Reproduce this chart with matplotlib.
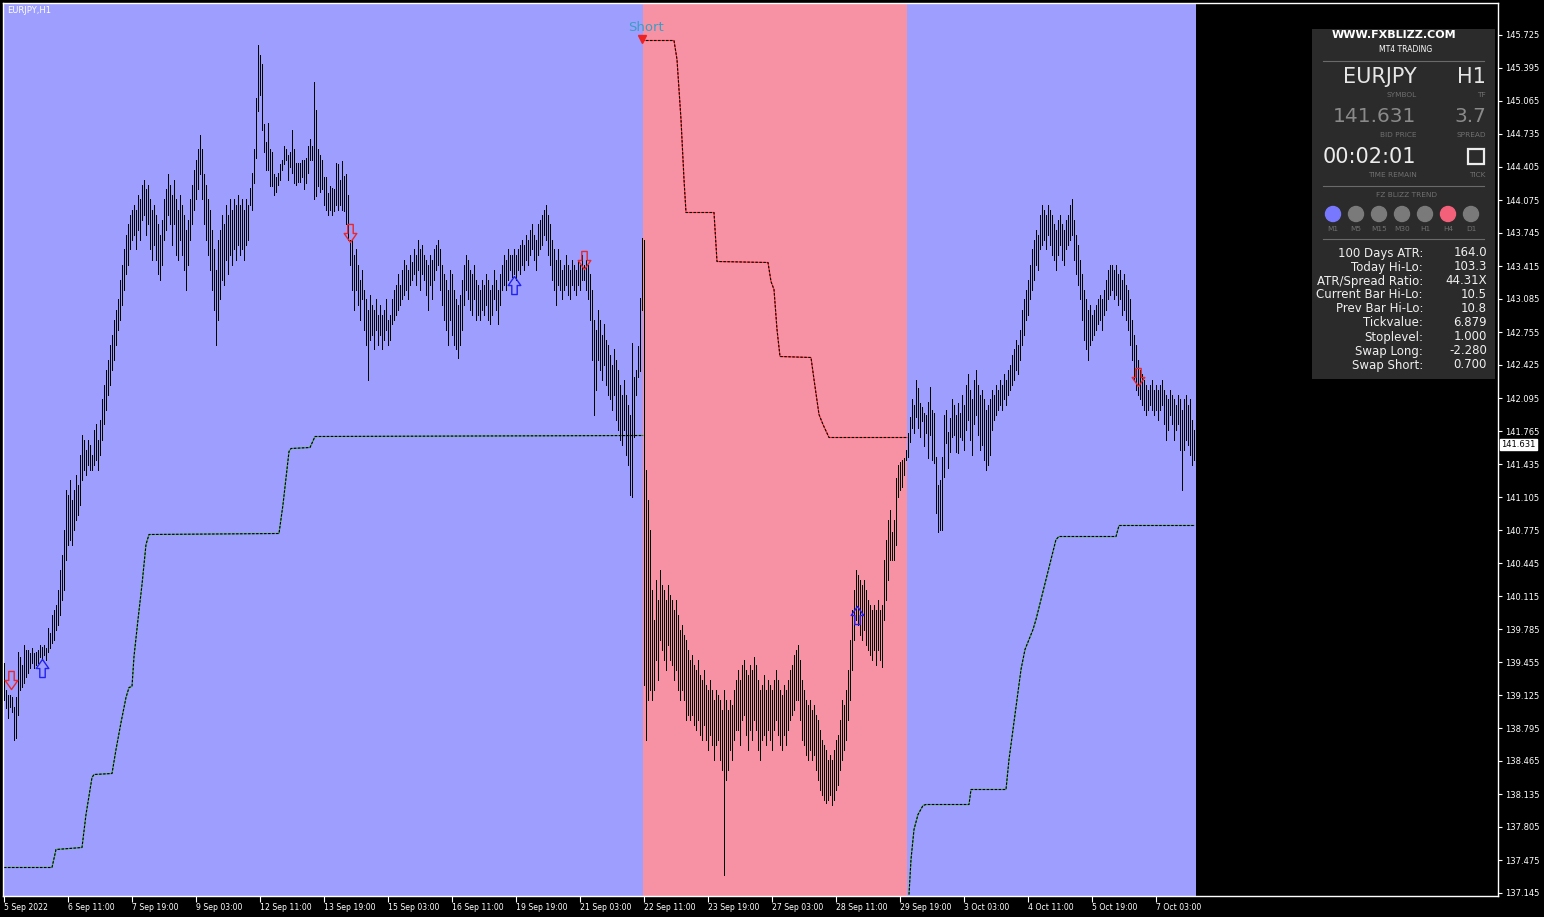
import numpy as np
import matplotlib.pyplot as plt
import matplotlib.transforms as mtransforms
from matplotlib.path import Path
from matplotlib.patches import Rectangle, Circle

# EURJPY H1, one bar per hour from 5 Sep 2022 (high / low)
highs = [
    139.45, 139.18, 139.13, 139.13, 139.11, 139.01, 139.11, 139.56, 139.51, 139.43,
    139.63, 139.58, 139.58, 139.55, 139.60, 139.55, 139.56, 139.58, 139.63, 139.61,
    139.63, 139.60, 139.80, 139.75, 139.93, 139.98, 140.03, 140.18, 140.38, 140.53,
    140.78, 141.18, 141.13, 141.28, 141.08, 141.18, 141.33, 141.23, 141.53, 141.73,
    141.68, 141.58, 141.68, 141.63, 141.53, 141.78, 141.83, 141.68, 141.88, 142.08,
    142.23, 142.38, 142.48, 142.63, 142.73, 142.88, 142.98, 143.08, 143.28, 143.43,
    143.58, 143.73, 143.83, 143.93, 143.98, 144.03, 143.98, 144.13, 144.08, 144.23,
    144.28, 144.18, 144.23, 144.08, 143.98, 144.03, 143.93, 143.83, 143.73, 143.88,
    144.08, 144.18, 144.33, 144.23, 144.13, 144.28, 144.08, 143.98, 144.13, 144.03,
    143.93, 143.78, 143.88, 144.08, 144.23, 144.38, 144.48, 144.58, 144.73, 144.58,
    144.33, 144.23, 144.08, 143.98, 143.78, 143.58, 143.38, 143.68, 143.78, 143.93,
    143.83, 144.03, 143.93, 144.08, 143.98, 144.08, 144.03, 144.13, 144.03, 144.08,
    143.98, 144.08, 144.03, 144.20, 144.35, 144.58, 145.10, 145.63, 145.53, 145.43,
    144.83, 144.66, 144.85, 144.58, 144.55, 144.33, 144.30, 144.35, 144.43, 144.48,
    144.61, 144.58, 144.53, 144.55, 144.78, 144.58, 144.45, 144.45, 144.45, 144.48,
    144.48, 144.50, 144.61, 144.68, 144.61, 145.26, 144.98, 144.58, 144.53, 144.48,
    144.31, 144.30, 144.15, 144.21, 144.20, 144.19, 144.45, 144.43, 144.28, 144.46,
    144.32, 144.33, 144.13, 143.68, 143.68, 143.53, 143.58, 143.43, 143.28, 143.38,
    143.18, 143.08, 142.98, 143.13, 143.03, 142.98, 143.08, 142.93, 143.03, 142.93,
    142.98, 143.08, 142.88, 142.93, 143.08, 143.18, 143.23, 143.33, 143.23, 143.38,
    143.48, 143.43, 143.38, 143.53, 143.46, 143.58, 143.53, 143.68, 143.58, 143.63,
    143.53, 143.48, 143.43, 143.53, 143.48, 143.58, 143.63, 143.68, 143.58, 143.43,
    143.33, 143.28, 143.18, 143.38, 143.33, 143.18, 143.08, 143.03, 143.13, 143.28,
    143.43, 143.53, 143.48, 143.38, 143.33, 143.43, 143.28, 143.23, 143.18, 143.28,
    143.23, 143.33, 143.28, 143.18, 143.23, 143.38, 143.28, 143.18, 143.33, 143.43,
    143.53, 143.48, 143.58, 143.53, 143.53, 143.58, 143.53, 143.58, 143.63, 143.68,
    143.63, 143.73, 143.68, 143.78, 143.83, 143.73, 143.68, 143.83, 143.88, 143.93,
    143.98, 144.03, 143.93, 143.83, 143.68, 143.58, 143.48, 143.58, 143.48, 143.38,
    143.43, 143.53, 143.43, 143.38, 143.48, 143.43, 143.38, 143.48, 143.43, 143.53,
    143.43, 143.48, 143.43, 143.33, 143.18, 142.88, 142.78, 142.98, 142.88, 142.73,
    142.83, 142.68, 142.63, 142.53, 142.43, 142.58, 142.48, 142.38, 142.23, 142.13,
    142.28, 142.13, 142.03, 141.93, 142.65, 142.31, 142.38, 142.61, 143.10, 143.70,
    143.68, 141.38, 141.08, 140.78, 140.18, 139.88, 140.28, 140.08, 140.38, 140.23,
    140.18, 140.08, 140.23, 140.13, 140.08, 139.98, 140.08, 139.93, 139.78, 139.83,
    139.73, 139.68, 139.58, 139.48, 139.53, 139.43, 139.38, 139.48, 139.33, 139.28,
    139.38, 139.23, 139.18, 139.28, 139.18, 139.08, 139.18, 139.13, 139.08, 138.98,
    139.18, 139.08, 138.98, 139.08, 139.03, 139.18, 139.28, 139.38, 139.28, 139.43,
    139.48, 139.38, 139.33, 139.43, 139.38, 139.51, 139.43, 139.28, 139.18, 139.23,
    139.33, 139.18, 139.28, 139.23, 139.18, 139.28, 139.38, 139.28, 139.18, 139.13,
    139.23, 139.18, 139.28, 139.38, 139.43, 139.53, 139.58, 139.63, 139.48, 139.28,
    139.18, 139.08, 139.03, 139.08, 138.98, 139.03, 138.93, 138.88, 138.78, 138.68,
    138.63, 138.58, 138.48, 138.53, 138.48, 138.58, 138.68, 138.73, 138.88, 139.08,
    139.03, 139.18, 139.38, 139.68, 139.98, 140.18, 140.38, 140.33, 140.28, 140.23,
    140.28, 140.18, 140.08, 140.03, 139.98, 140.03, 139.98, 140.08, 139.98, 140.03,
    140.48, 140.68, 140.88, 140.98, 140.76, 140.88, 141.30, 141.43, 141.46, 141.48,
    141.50, 141.58, 141.75, 141.91, 142.08, 142.03, 142.28, 142.20, 142.05, 142.01,
    141.95, 141.93, 142.06, 142.21, 141.98, 141.95, 141.51, 141.23, 141.28, 141.51,
    141.93, 141.98, 141.76, 141.90, 142.08, 142.03, 141.93, 142.05, 141.95, 142.13,
    142.03, 142.23, 142.33, 142.18, 142.08, 142.28, 142.38, 142.23, 142.13, 142.18,
    142.08, 141.98, 142.03, 142.08, 142.18, 142.13, 142.23, 142.18, 142.28, 142.23,
    142.33, 142.28, 142.38, 142.43, 142.53, 142.58, 142.68, 142.63, 142.78, 142.98,
    143.08, 143.18, 143.28, 143.43, 143.58, 143.68, 143.78, 143.73, 143.93, 144.03,
    143.98, 143.93, 144.03, 143.98, 143.93, 143.83, 143.78, 143.88, 143.93, 143.83,
    143.78, 143.88, 143.93, 144.03, 144.08, 143.88, 143.73, 143.63, 143.48, 143.33,
    143.18, 143.08, 142.98, 143.03, 142.93, 142.98, 143.03, 143.08, 143.13, 143.08,
    143.18, 143.28, 143.38, 143.43, 143.43, 143.38, 143.43, 143.33, 143.38, 143.28,
    143.33, 143.23, 143.18, 143.08, 142.88, 142.73, 142.63, 142.48, 142.38, 142.33,
    142.28, 142.23, 142.18, 142.23, 142.28, 142.18, 142.23, 142.18, 142.23, 142.28,
    142.18, 142.13, 142.08, 142.18, 142.13, 142.08, 142.03, 142.13, 142.08, 141.98,
    142.08, 142.13, 142.03, 142.08, 141.88, 141.78,
]
lows = [
    139.08, 139.00, 138.90, 139.01, 138.96, 138.68, 138.70, 138.93, 139.18, 139.21,
    139.25, 139.31, 139.35, 139.40, 139.45, 139.40, 139.43, 139.45, 139.51, 139.48,
    139.53, 139.48, 139.56, 139.60, 139.65, 139.68, 139.78, 139.83, 139.93, 140.08,
    140.18, 140.48, 140.63, 140.68, 140.63, 140.78, 140.88, 140.93, 141.03, 141.28,
    141.38, 141.33, 141.43, 141.38, 141.38, 141.43, 141.48, 141.38, 141.53, 141.68,
    141.83, 141.98, 142.13, 142.23, 142.38, 142.48, 142.63, 142.78, 142.88, 143.03,
    143.18, 143.33, 143.43, 143.58, 143.68, 143.73, 143.58, 143.78, 143.68, 143.88,
    143.93, 143.73, 143.83, 143.58, 143.48, 143.63, 143.48, 143.33, 143.28, 143.43,
    143.68, 143.78, 143.93, 143.83, 143.63, 143.83, 143.53, 143.48, 143.68, 143.53,
    143.38, 143.18, 143.43, 143.68, 143.83, 143.98, 144.08, 144.18, 144.33, 144.08,
    143.83, 143.68, 143.53, 143.38, 143.18, 142.98, 142.63, 142.88, 143.08, 143.28,
    143.23, 143.48, 143.33, 143.53, 143.43, 143.58, 143.48, 143.63, 143.53, 143.58,
    143.48, 143.63, 143.68, 144.03, 143.98, 144.25, 144.50, 144.96, 145.13, 144.78,
    144.56, 144.38, 144.38, 144.21, 144.21, 144.13, 144.16, 144.23, 144.28, 144.38,
    144.43, 144.48, 144.28, 144.41, 144.35, 144.25, 144.23, 144.26, 144.26, 144.31,
    144.18, 144.25, 144.35, 144.48, 144.48, 144.08, 144.12, 144.21, 144.16, 144.18,
    144.03, 143.98, 143.93, 143.98, 143.93, 143.96, 144.03, 143.98, 144.03, 143.98,
    143.96, 143.83, 143.68, 143.43, 143.18, 142.98, 143.18, 143.03, 142.88, 143.08,
    142.78, 142.63, 142.28, 142.68, 142.73, 142.58, 142.78, 142.63, 142.73, 142.58,
    142.68, 142.78, 142.63, 142.68, 142.83, 142.88, 142.93, 142.98, 143.03, 143.08,
    143.13, 143.18, 143.08, 143.23, 143.28, 143.33, 143.23, 143.38, 143.18, 143.33,
    143.28, 143.13, 142.98, 143.23, 143.08, 143.28, 143.38, 143.43, 143.18, 143.03,
    142.88, 142.78, 142.63, 142.88, 142.73, 142.63, 142.58, 142.50, 142.63, 142.78,
    143.03, 143.18, 143.08, 142.98, 142.93, 143.08, 142.88, 142.93, 142.88, 142.98,
    142.93, 143.03, 142.88, 142.83, 142.93, 143.08, 142.98, 142.83, 143.03, 143.18,
    143.23, 143.18, 143.28, 143.38, 143.30, 143.33, 143.28, 143.38, 143.33, 143.43,
    143.38, 143.48, 143.43, 143.53, 143.58, 143.48, 143.38, 143.53, 143.58, 143.63,
    143.73, 143.68, 143.53, 143.43, 143.28, 143.18, 143.03, 143.23, 143.18, 143.08,
    143.18, 143.23, 143.13, 143.08, 143.23, 143.18, 143.13, 143.23, 143.18, 143.28,
    143.28, 143.18, 143.08, 142.88, 142.48, 141.93, 142.18, 142.48, 142.38, 142.28,
    142.43, 142.23, 142.13, 142.08, 141.98, 142.13, 141.88, 141.78, 141.68, 141.63,
    141.78, 141.53, 141.43, 141.13, 141.11, 141.71, 142.13, 142.30, 142.36, 142.98,
    139.23, 138.68, 139.08, 139.18, 139.08, 139.18, 139.48, 139.28, 139.68, 139.58,
    139.48, 139.38, 139.63, 139.48, 139.43, 139.28, 139.38, 139.18, 139.08, 139.18,
    139.08, 138.88, 138.93, 138.88, 138.93, 138.83, 138.78, 138.88, 138.73, 138.68,
    138.83, 138.68, 138.58, 138.73, 138.63, 138.48, 138.63, 138.68, 138.48, 138.38,
    137.33, 138.28, 138.38, 138.58, 138.48, 138.68, 138.78, 138.78, 138.63, 138.88,
    138.93, 138.73, 138.58, 138.78, 138.68, 138.88, 138.78, 138.58, 138.48, 138.68,
    138.73, 138.63, 138.78, 138.68, 138.58, 138.78, 138.88, 138.73, 138.63, 138.58,
    138.73, 138.63, 138.78, 138.88, 138.93, 138.98, 139.08, 139.08, 138.88, 138.68,
    138.63, 138.53, 138.48, 138.58, 138.48, 138.53, 138.38, 138.28, 138.18, 138.13,
    138.08, 138.05, 138.08, 138.13, 138.03, 138.08, 138.18, 138.23, 138.38, 138.48,
    138.58, 138.68, 138.88, 139.08, 139.38, 139.68, 139.88, 139.83, 139.73, 139.68,
    139.78, 139.63, 139.58, 139.53, 139.48, 139.58, 139.43, 139.58, 139.48, 139.41,
    139.88, 140.08, 140.28, 140.48, 140.48, 140.48, 140.63, 141.11, 141.18, 141.21,
    141.33, 141.48, 141.51, 141.66, 141.80, 141.75, 141.91, 141.80, 141.71, 141.86,
    141.61, 141.75, 141.50, 141.73, 141.48, 141.45, 140.95, 140.76, 140.78, 140.78,
    141.31, 141.65, 141.40, 141.56, 141.71, 141.73, 141.56, 141.55, 141.71, 141.68,
    141.58, 141.78, 141.88, 141.68, 141.53, 141.83, 141.93, 141.73, 141.58, 141.63,
    141.48, 141.38, 141.43, 141.53, 141.78, 141.88, 141.93, 141.98, 142.03, 141.98,
    142.08, 142.03, 142.13, 142.18, 142.23, 142.28, 142.38, 142.33, 142.48, 142.63,
    142.73, 142.88, 142.93, 143.08, 143.18, 143.28, 143.43, 143.38, 143.58, 143.63,
    143.68, 143.58, 143.73, 143.63, 143.53, 143.48, 143.38, 143.53, 143.63, 143.48,
    143.43, 143.58, 143.63, 143.68, 143.73, 143.48, 143.33, 143.23, 143.08, 142.88,
    142.68, 142.58, 142.48, 142.63, 142.68, 142.73, 142.78, 142.83, 142.88, 142.78,
    142.93, 142.98, 143.08, 143.13, 143.18, 143.08, 143.13, 143.03, 143.08, 142.93,
    142.98, 142.88, 142.78, 142.63, 142.48, 142.28, 142.18, 142.13, 142.08, 142.03,
    141.98, 141.93, 141.98, 142.03, 141.98, 141.93, 141.98, 141.88, 141.98, 142.03,
    141.83, 141.68, 141.78, 141.93, 141.83, 141.68, 141.78, 141.83, 141.58, 141.18,
    141.58, 141.68, 141.63, 141.53, 141.43, 141.48,
]

# trend zones painted behind the bars: (first bar, last bar, trend)
zone_from = [-0.5, 319.5, 451.5]
zone_to = [319.5, 451.5, 596]
zone_trend = ['up', 'down', 'up']

# trailing stop lines (bar, price)
trail_up1_bars = [0, 24, 26, 39, 41, 44, 45, 54, 56, 58.5, 61, 62.5, 64, 65, 67, 69, 71, 72.5,
                  137.5, 139.5, 142.5, 143.5, 153, 155.5, 319.5]
trail_up1 = [137.40, 137.40, 137.58, 137.60, 137.93, 138.30, 138.33, 138.34, 138.58, 138.85,
             139.10, 139.20, 139.21, 139.51, 139.88, 140.23, 140.63, 140.73,
             140.74, 141.03, 141.56, 141.59, 141.60, 141.71, 141.72]
trail_dn_bars = [319, 335, 336.5, 338.5, 340, 341, 355, 356.5, 382, 383.5, 385, 386.5, 388,
                 403.5, 405, 407.5, 409.5, 412.5, 451.5]
trail_dn = [145.67, 145.67, 145.48, 144.88, 144.28, 143.95, 143.95, 143.46, 143.45, 143.26,
            143.18, 142.78, 142.51, 142.50, 142.28, 141.93, 141.83, 141.70, 141.70]
trail_up2_bars = [452.5, 453.5, 455, 457, 459.5, 461, 482.5, 483.5, 501, 502.5, 504.5, 506.5,
                  508.5, 510.5, 512.5, 514.5, 516, 518.5, 521, 523.5, 526, 527.5, 556, 557.5, 595]
trail_up2 = [137.13, 137.48, 137.78, 137.93, 138.02, 138.03, 138.03, 138.18, 138.18, 138.48,
             138.78, 139.08, 139.38, 139.58, 139.68, 139.78, 139.88, 140.08, 140.28, 140.48,
             140.68, 140.71, 140.71, 140.82, 140.82]

# signal arrows
sell_bars = [3.5, 173, 290, 567]
sell_prices = [139.28, 143.75, 143.48, 142.31]
buy_bars = [19, 255, 426.5]
buy_prices = [139.40, 143.23, 139.93]
short_bar = 319
short_price = 145.68

price_ticks = [145.725, 145.395, 145.065, 144.735, 144.405, 144.075, 143.745, 143.415, 143.085,
               142.755, 142.425, 142.095, 141.765, 141.435, 141.105, 140.775, 140.445, 140.115,
               139.785, 139.455, 139.125, 138.795, 138.465, 138.135, 137.805, 137.475, 137.145]
time_bars = [0, 32, 64, 96, 128, 160, 192, 224, 256, 288, 320, 352, 384, 416, 448, 480, 512, 544, 576]
time_labels = ['5 Sep 2022', '6 Sep 11:00', '7 Sep 19:00', '9 Sep 03:00', '12 Sep 11:00',
               '13 Sep 19:00', '15 Sep 03:00', '16 Sep 11:00', '19 Sep 19:00', '21 Sep 03:00',
               '22 Sep 11:00', '23 Sep 19:00', '27 Sep 03:00', '28 Sep 11:00', '29 Sep 19:00',
               '3 Oct 03:00', '4 Oct 11:00', '5 Oct 19:00', '7 Oct 03:00']
bid = 141.631

# info panel values
trend_tfs = ['M1', 'M5', 'M15', 'M30', 'H1', 'H4', 'D1']
trend_state = ['up', 'flat', 'flat', 'flat', 'flat', 'down', 'flat']
info_labels = ['100 Days ATR:', 'Today Hi-Lo:', 'ATR/Spread Ratio:', 'Current Bar Hi-Lo:',
               'Prev Bar Hi-Lo:', 'Tickvalue:', 'Stoplevel:', 'Swap Long:', 'Swap Short:']
info_values = ['164.0', '103.3', '44.31X', '10.5', '10.8', '6.879', '1.000', '-2.280', '0.700']

zone_col = {'up': '#9e9eff', 'down': '#f792a4'}
state_col = {'up': '#7878ff', 'down': '#f2607a', 'flat': '#7a7a7a'}

W, H = 1544, 917
fig = plt.figure(figsize=(W / 100, H / 100), dpi=100, facecolor='black')
ax = fig.add_axes([3 / W, 21 / H, 1495 / W, 893 / H])
ax.set_facecolor('black')
ax.set_xlim(-0.5, 747)
ax.set_ylim(137.115, 146.045)

for a, b, tr in zip(zone_from, zone_to, zone_trend):
    ax.axvspan(a, b, color=zone_col[tr], lw=0, zorder=0)

n = min(len(highs), len(lows))
xb = np.arange(n)
ax.vlines(xb, lows[:n], highs[:n], colors='black', linewidth=0.5, antialiased=False, zorder=3)

# dashed trailing lines
for bx, py, c in [(trail_up1_bars, trail_up1, '#3aa83a'), (trail_dn_bars, trail_dn, '#ff3030'),
                  (trail_up2_bars, trail_up2, '#3aa83a')]:
    ax.plot(bx, py, color=c, lw=0.8, zorder=2)
    ax.plot(bx, py, color='black', lw=0.8, dashes=(2.2, 1.4), zorder=2)

up_arrow = Path([(-0.3, -1), (0.3, -1), (0.3, 0), (0.7, 0), (0, 1), (-0.7, 0), (-0.3, 0), (-0.3, -1)],
                [1, 2, 2, 2, 2, 2, 2, 79])
dn_arrow = Path([(x, -y) for x, y in up_arrow.vertices], up_arrow.codes)
ax.plot(sell_bars, sell_prices, ls='none', marker=dn_arrow, ms=13, mfc='none', mec='#e8282a', mew=1, zorder=4)
ax.plot(buy_bars, buy_prices, ls='none', marker=up_arrow, ms=13, mfc='none', mec='#2222ee', mew=1, zorder=4)
ax.plot([short_bar], [short_price], ls='none', marker='v', ms=6, color='#ee2222', zorder=4)
ax.text(short_bar - 7, short_price + 0.12, 'Short', color='#3a9ec4', fontsize=9.5, va='center', zorder=4)

ax.text(0.003, 0.992, 'EURJPY,H1', transform=ax.transAxes, color='white', fontsize=6, va='center')

for s in ax.spines.values():
    s.set_color('white')
    s.set_linewidth(1)
ax.yaxis.tick_right()
ax.set_yticks(price_ticks)
ax.set_yticklabels(['%.3f' % p for p in price_ticks])
ax.tick_params(axis='y', colors='white', labelsize=6, length=3, pad=2)
ax.set_xticks(time_bars)
ax.set_xticklabels(time_labels, ha='left')
ax.tick_params(axis='x', colors='white', labelsize=5.6, length=4, pad=1)

trans = mtransforms.blended_transform_factory(ax.transAxes, ax.transData)
ax.text(1.002, bid, '%.3f' % bid, transform=trans, color='black', fontsize=6, va='center', ha='left',
        bbox=dict(boxstyle='square,pad=0.15', fc='white', ec='white'))

# info panel
pan = fig.add_axes([1312 / W, 1 - 379 / H, 183 / W, 350 / H])
pan.set_xlim(0, 183)
pan.set_ylim(350, 0)
pan.set_axis_off()
pan.add_patch(Rectangle((0, 0), 183, 350, color='#2b2b2b'))


def t(x, y, s, size, color, ha='right', weight='normal'):
    pan.text(x, y, s, fontsize=size, color=color, ha=ha, va='center', fontweight=weight)


t(82, 6, 'WWW.FXBLIZZ.COM', 8, 'white', 'center', 'bold')
t(94, 21, 'MT4 TRADING', 5.5, 'white', 'center')
for yy in [32, 157, 210]:
    pan.plot([11, 172], [yy, yy], color='#6a6a6a', lw=0.8)
t(105, 48, 'EURJPY', 15, '#e6e6e6')
t(174, 48, 'H1', 15, '#e6e6e6')
t(105, 66, 'SYMBOL', 5.3, '#707070')
t(174, 66, 'TF', 5.3, '#707070')
t(104, 88, '141.631', 14.5, '#8a8a8a')
t(174, 88, '3.7', 14.5, '#8a8a8a')
t(105, 106, 'BID PRICE', 5.3, '#707070')
t(174, 106, 'SPREAD', 5.3, '#707070')
t(104, 128, '00:02:01', 15, '#ececec')
pan.add_patch(Rectangle((156, 120), 16, 15, fill=False, ec='#ececec', lw=1.6))
t(105, 146, 'TIME REMAIN', 5.3, '#707070')
t(174, 146, 'TICK', 5.3, '#707070')
t(95, 166, 'FZ BLIZZ TREND', 5.3, '#707070', 'center')
for k, (tf, st) in enumerate(zip(trend_tfs, trend_state)):
    cx = 21 + 23 * k
    pan.add_patch(Circle((cx, 185), 7.5, color=state_col[st]))
    t(cx, 200, tf, 5.3, '#707070', 'center')
for k, (lb, v) in enumerate(zip(info_labels, info_values)):
    t(111, 224 + 14 * k, lb, 8.5, '#f0f0f0')
    t(175, 224 + 14 * k, v, 8.5, '#f0f0f0')

fig.savefig('out.png', dpi=100, facecolor='black')
